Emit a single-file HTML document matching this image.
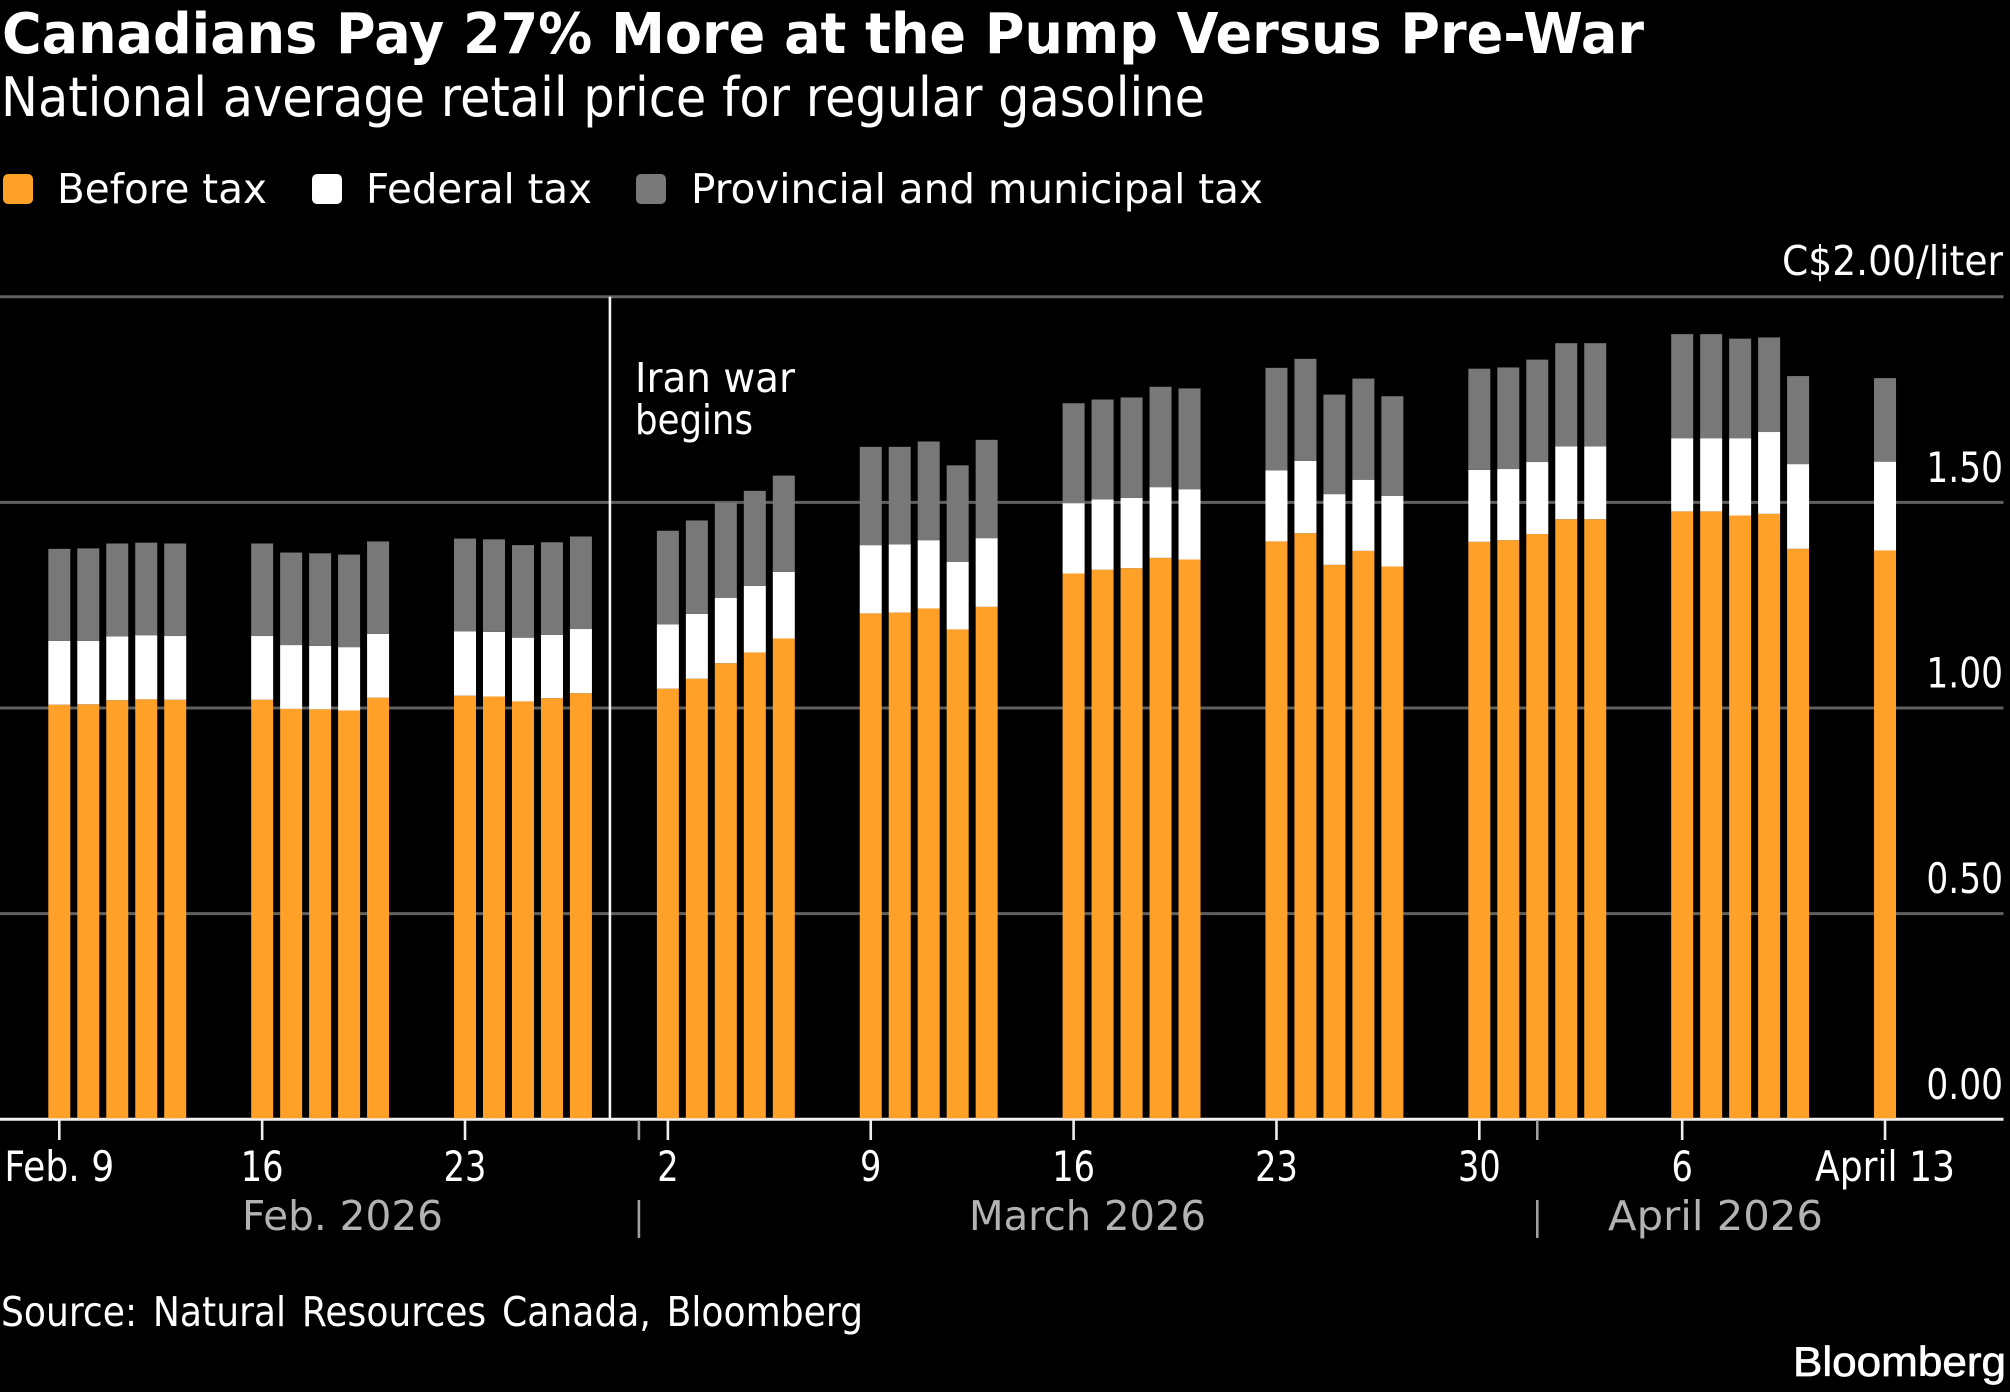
<!DOCTYPE html>
<html lang="en">
<head>
<meta charset="utf-8">
<title>Canadians Pay 27% More at the Pump Versus Pre-War</title>
<style>
  html, body { margin: 0; padding: 0; background: #000; width: 2010px; height: 1392px; overflow: hidden; }
  svg { display: block; }
  text { font-family: "DejaVu Sans", "Liberation Sans", sans-serif; fill: #fff; }
  .title { font-size: 56px; font-weight: 700; }
  .subtitle { font-size: 54px; }
  .label { font-size: 41px; }
  .tick-label { font-size: 42px; }
  .month { font-size: 41px; fill: #b2b2b2; }
  .brand { font-family: "Liberation Sans", sans-serif; font-size: 42px; stroke: #fff; stroke-width: 0.7px; }
</style>
</head>
<body>
<svg id="chart-root" xmlns="http://www.w3.org/2000/svg" width="2010" height="1392" viewBox="0 0 2010 1392">
  <rect x="0" y="0" width="2010" height="1392" fill="#000"/>
  <text class="title" x="2" y="53" textLength="1642" lengthAdjust="spacingAndGlyphs">Canadians Pay 27% More at the Pump Versus Pre-War</text>
  <text class="subtitle" x="1" y="116" textLength="1204" lengthAdjust="spacingAndGlyphs">National average retail price for regular gasoline</text>

  <g>
    <g>
      <rect x="3" y="174" width="30" height="30" rx="5" fill="#ffa028"/>
      <text class="label" x="57" y="203" textLength="210" lengthAdjust="spacingAndGlyphs">Before tax</text>
    </g>
    <g>
      <rect x="312" y="174" width="30" height="30" rx="5" fill="#ffffff"/>
      <text class="label" x="366" y="203" textLength="226" lengthAdjust="spacingAndGlyphs">Federal tax</text>
    </g>
    <g>
      <rect x="636" y="174" width="30" height="30" rx="5" fill="#787878"/>
      <text class="label" x="691" y="203" textLength="572" lengthAdjust="spacingAndGlyphs">Provincial and municipal tax</text>
    </g>
  </g>

  <g id="grid"></g>
  <g id="annotation"></g>
  <g id="x-axis"></g>
  <g id="bars"></g>
  <g id="y-axis"></g>

  <text class="label" x="1782" y="275" textLength="221" lengthAdjust="spacingAndGlyphs">C$2.00/liter</text>
  <text class="label" x="635" y="392" textLength="160" lengthAdjust="spacingAndGlyphs">Iran war</text>
  <text class="label" x="635" y="434" textLength="118" lengthAdjust="spacingAndGlyphs">begins</text>

  <text class="month" x="242" y="1230" textLength="201" lengthAdjust="spacingAndGlyphs">Feb. 2026</text>
  <text class="month" x="969" y="1230" textLength="237" lengthAdjust="spacingAndGlyphs">March 2026</text>
  <text class="month" x="1608" y="1230" textLength="215" lengthAdjust="spacingAndGlyphs">April 2026</text>

  <text class="label" x="1" y="1326" textLength="862" lengthAdjust="spacingAndGlyphs" word-spacing="0.12em">Source: Natural Resources Canada, Bloomberg</text>
  <text class="brand" x="1793" y="1376" textLength="213" lengthAdjust="spacingAndGlyphs">Bloomberg</text>
</svg>

<script>
const dates = [
  "2026-02-09","2026-02-10","2026-02-11","2026-02-12","2026-02-13",
  "2026-02-16","2026-02-17","2026-02-18","2026-02-19","2026-02-20",
  "2026-02-23","2026-02-24","2026-02-25","2026-02-26","2026-02-27",
  "2026-03-02","2026-03-03","2026-03-04","2026-03-05","2026-03-06",
  "2026-03-09","2026-03-10","2026-03-11","2026-03-12","2026-03-13",
  "2026-03-16","2026-03-17","2026-03-18","2026-03-19","2026-03-20",
  "2026-03-23","2026-03-24","2026-03-25","2026-03-26","2026-03-27",
  "2026-03-30","2026-03-31","2026-04-01","2026-04-02","2026-04-03",
  "2026-04-06","2026-04-07","2026-04-08","2026-04-09","2026-04-10",
  "2026-04-13"
];
const beforeTax = [
  1.008,1.009,1.019,1.021,1.020,
  1.020,0.998,0.997,0.994,1.025,
  1.030,1.028,1.016,1.024,1.036,
  1.047,1.071,1.109,1.135,1.169,
  1.230,1.232,1.242,1.191,1.246,
  1.327,1.336,1.340,1.365,1.361,
  1.405,1.425,1.348,1.382,1.344,
  1.404,1.408,1.423,1.459,1.459,
  1.478,1.478,1.468,1.472,1.387,
  1.383
];
const federalTax = [
  0.155,0.154,0.155,0.156,0.155,
  0.155,0.155,0.154,0.154,0.155,
  0.156,0.157,0.155,0.154,0.156,
  0.156,0.158,0.159,0.162,0.162,
  0.166,0.166,0.166,0.164,0.167,
  0.171,0.171,0.171,0.172,0.171,
  0.173,0.176,0.172,0.173,0.172,
  0.175,0.173,0.175,0.177,0.177,
  0.178,0.178,0.188,0.199,0.206,
  0.216
];
const provincialTax = [
  0.224,0.225,0.226,0.225,0.225,
  0.225,0.225,0.225,0.225,0.225,
  0.226,0.225,0.225,0.225,0.225,
  0.228,0.227,0.231,0.231,0.234,
  0.239,0.237,0.240,0.235,0.239,
  0.243,0.243,0.244,0.244,0.245,
  0.249,0.248,0.242,0.246,0.242,
  0.246,0.247,0.249,0.251,0.251,
  0.253,0.253,0.242,0.230,0.214,
  0.203
];
const yTicks = [0, 0.5, 1, 1.5, 2];
const xTickDates = ["2026-02-09","2026-02-16","2026-02-23","2026-03-02","2026-03-09","2026-03-16","2026-03-23","2026-03-30","2026-04-06","2026-04-13"];
const xTickLabels = ["Feb. 9","16","23","2","9","16","23","30","6","April 13"];
const monthDividerDates = ["2026-03-01","2026-04-01"];
const warStartDate = "2026-02-28";

const SVG_NS = "http://www.w3.org/2000/svg";
const BAR_WIDTH = 22;
const ORIGIN = Date.UTC(2026, 1, 9);

function xScale(dateText) {
  const parts = dateText.split("-").map(Number);
  const days = (Date.UTC(parts[0], parts[1] - 1, parts[2]) - ORIGIN) / 86400000;
  return 59.3 + days * 28.98;
}
function yScale(value) {
  return 1119.3 - value * 411.3;
}
function make(tag, attrs, parent) {
  const el = document.createElementNS(SVG_NS, tag);
  for (const key in attrs) el.setAttribute(key, attrs[key]);
  parent.appendChild(el);
  return el;
}

const gridGroup = document.getElementById("grid");
const barsGroup = document.getElementById("bars");
const annotationGroup = document.getElementById("annotation");
const xAxisGroup = document.getElementById("x-axis");
const yAxisGroup = document.getElementById("y-axis");

yTicks.forEach(function (tick) {
  if (tick === 0) return;
  const line = make("line", { x1: 0, x2: 2003.5, y1: yScale(tick), y2: yScale(tick), stroke: "#606060", "stroke-width": 3 }, gridGroup);
  
  
});

dates.forEach(function (date, i) {
  const x = xScale(date) - BAR_WIDTH / 2;
  const v0 = beforeTax[i];
  const v1 = v0 + federalTax[i];
  const v2 = v1 + provincialTax[i];

  const orange = make("rect", { x: x, width: BAR_WIDTH, y: yScale(v0), height: yScale(0) - yScale(v0) - 1, fill: "#ffa028" }, barsGroup);
  
  

  const white = make("rect", { x: x, width: BAR_WIDTH, y: yScale(v1), height: yScale(v0) - yScale(v1), fill: "#ffffff" }, barsGroup);
  
  

  const gray = make("rect", { x: x, width: BAR_WIDTH, y: yScale(v2), height: yScale(v1) - yScale(v2), fill: "#787878" }, barsGroup);
  
  
});

const warLine = make("line", { x1: xScale(warStartDate), x2: xScale(warStartDate), y1: yScale(2), y2: yScale(0), stroke: "#f4f4f4", "stroke-width": 2.6 }, annotationGroup);



const baseline = make("line", { x1: 0, x2: 2003.5, y1: yScale(0), y2: yScale(0), stroke: "#f0f0f0", "stroke-width": 3 }, xAxisGroup);



xTickDates.forEach(function (date, i) {
  const x = xScale(date);
  const tick = make("line", { x1: x, x2: x, y1: 1120, y2: 1140, stroke: "#eeeeee", "stroke-width": 2.6 }, xAxisGroup);
  
  

  const sx = /[A-Za-z]/.test(xTickLabels[i]) ? 0.86 : 0.8;
  const label = make("text", { class: "tick-label", "text-anchor": "middle", transform: "translate(" + x + ",1181) scale(" + sx + ",1)" }, xAxisGroup);
  label.textContent = xTickLabels[i];
  
  
});

monthDividerDates.forEach(function (date) {
  const x = xScale(date);
  const upper = make("line", { x1: x, x2: x, y1: 1120, y2: 1140, stroke: "#a0a0a0", "stroke-width": 2.6 }, xAxisGroup);
  
  

  const lower = make("line", { x1: x, x2: x, y1: 1200, y2: 1238, stroke: "#a0a0a0", "stroke-width": 2.6 }, xAxisGroup);
  
  
});

yTicks.forEach(function (tick) {
  if (tick === 2) return;
  const label = make("text", { class: "tick-label", "text-anchor": "end", transform: "translate(2003," + (yScale(tick) - 20.5) + ") scale(0.82,1)" }, yAxisGroup);
  label.textContent = tick.toFixed(2);
  
  
});
</script>
</body>
</html>
